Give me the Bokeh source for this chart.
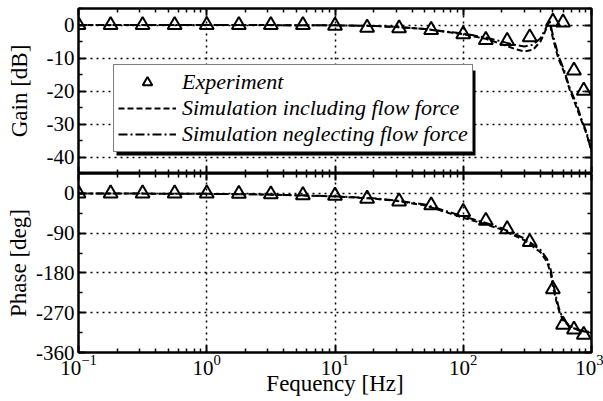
from bokeh.plotting import figure
from bokeh.models import (Range1d, FixedTicker, LogAxis, LinearAxis, Legend, LegendItem,
                          BoxAnnotation, LogTickFormatter)
from bokeh.layouts import column
from bokeh.embed import file_html
from bokeh.resources import INLINE

# ---------------- data ----------------
exp_freq = [0.1, 0.178, 0.316, 0.562, 1.0, 1.78, 3.16, 5.62, 10, 17.8, 31.6, 56.2,
            100, 150, 220, 330, 500, 600, 730, 870]
exp_gain = [0, 0, 0, 0, 0, 0, 0, 0, -0.2, -0.8, -1.0, -1.5,
            -2.8, -4.5, -4.8, -3.7, 1.0, 0.8, -13.8, -19.9]
exp_phase = [0, 0, 0, 0, 0, -1, -2, -4, -5, -12, -18, -27,
             -42, -62, -81, -110, -217, -297, -308, -320]

gain_sim_freq = [0.1, 1, 5, 10, 20, 30, 50, 100, 150, 200, 250, 300, 350, 400, 440, 470,
                 500, 550, 615, 675, 765, 835, 915, 1000]
gain_inc = [0, 0, -0.05, -0.1, -0.3, -0.6, -1.2, -2.8, -4.2, -5.8, -7.2, -8.0, -7.5, -5.0,
            -1.5, 1.2, -4.0, -10.0, -14.5, -19.5, -25.0, -29.0, -33.0, -38.0]
gain_neg = [0, 0, -0.05, -0.1, -0.3, -0.6, -1.2, -2.6, -3.8, -5.0, -6.0, -6.5, -6.0, -4.0,
            -1.0, 1.5, -3.0, -9.0, -14.0, -19.0, -24.0, -28.5, -32.5, -38.5]

phase_sim_freq = [0.1, 1, 3, 10, 20, 30, 50, 100, 150, 200, 300, 400, 450, 480, 500, 530,
                  560, 600, 650, 700, 800, 900, 1000]
phase_inc = [0, -1, -2.5, -7, -12, -17, -27, -55, -70, -82, -106, -133, -155, -180, -211,
             -242, -267, -287, -297, -303, -310, -313, -315]
phase_neg = [0, -1, -2.5, -6.5, -11, -16, -25, -52, -67, -79, -102, -128, -148, -172, -200,
             -235, -262, -284, -295, -302, -309, -312, -314]

x_major = [0.1, 1, 10, 100, 1000]
x_minor = [k * 10 ** e for e in range(-1, 3) for k in range(2, 10)]
gain_major = [0, -10, -20, -30, -40]
gain_labels = ["0", "-10", "-20", "-30", "-40"]
gain_minor = [5, -5, -15, -25, -35, -45]
phase_major = [0, -90, -180, -270, -360]
phase_labels = ["0", "-90", "-180", "-270", "-360"]
phase_minor = [45, -45, -135, -225, -315]

SERIF = "'Liberation Serif', 'Times New Roman', serif"
DASH_INC = "6 3"
DASH_NEG = "9 3 2 3"


def style_axis(ax, show_labels):
    ax.axis_line_width = 2
    ax.axis_line_color = "black"
    ax.major_tick_in = 7
    ax.major_tick_out = 0
    ax.minor_tick_in = 4
    ax.minor_tick_out = 0
    ax.major_tick_line_width = 2
    ax.minor_tick_line_width = 1.5
    ax.major_tick_line_color = "black"
    ax.minor_tick_line_color = "black"
    ax.major_label_text_font = SERIF
    ax.axis_label_text_font = SERIF
    ax.axis_label_text_font_style = "normal"
    ax.axis_label_text_font_size = "23px"
    ax.axis_label_text_color = "black"
    if show_labels:
        ax.major_label_text_font_size = "21px"
        ax.major_label_text_color = "black"
        ax.major_label_standoff = 4
    else:
        ax.major_label_text_font_size = "1px"
        ax.major_label_text_color = None
        ax.major_label_standoff = 0


def make_fig(y_lo, y_hi, y_major, y_labels, y_minor, y_label, frame_h, top_b, bottom_b,
             show_x_labels, label_standoff):
    p = figure(x_axis_type="log", x_range=Range1d(0.1, 1000), y_range=Range1d(y_lo, y_hi),
               frame_width=513, frame_height=frame_h,
               min_border_left=78, min_border_right=12, min_border_top=top_b,
               min_border_bottom=bottom_b,
               output_backend="svg", toolbar_location=None)
    p.outline_line_color = "black"
    p.outline_line_width = 2
    p.background_fill_color = "white"
    p.border_fill_color = "white"

    xt = FixedTicker(ticks=x_major, minor_ticks=x_minor)
    yt = FixedTicker(ticks=y_major, minor_ticks=y_minor)

    xa = p.xaxis[0]
    xa.ticker = xt
    xa.formatter = LogTickFormatter()
    style_axis(xa, show_x_labels)
    if show_x_labels:
        xa.axis_label = "Fequency [Hz]"
        xa.axis_label_standoff = -7
        xa.major_label_standoff = 2

    ya = p.yaxis[0]
    ya.ticker = yt
    style_axis(ya, True)
    ya.major_label_overrides = {float(v): s for v, s in zip(y_major, y_labels)}
    ya.axis_label = y_label
    ya.axis_label_standoff = label_standoff

    top_ax = LogAxis(ticker=xt)
    style_axis(top_ax, False)
    p.add_layout(top_ax, "above")
    right_ax = LinearAxis(ticker=yt)
    style_axis(right_ax, False)
    p.add_layout(right_ax, "right")

    for g in (p.xgrid[0], p.ygrid[0]):
        g.grid_line_color = "black"
        g.grid_line_dash = "2 4"
        g.grid_line_width = 1.5
    return p


# ---------------- gain panel ----------------
p1 = make_fig(-45, 5, gain_major, gain_labels, gain_minor, "Gain [dB]", 165, 8, 0, False, 12)
r_inc = p1.line(gain_sim_freq, gain_inc, line_color="black", line_width=2, line_dash=DASH_INC)
r_neg = p1.line(gain_sim_freq, gain_neg, line_color="black", line_width=2, line_dash=DASH_NEG)
r_exp = p1.scatter(exp_freq, exp_gain, marker="triangle", size=14, line_color="black",
                   line_width=2, fill_alpha=0)

shadow = BoxAnnotation(left=38, right=397, bottom=18, top=103,
                       left_units="screen", right_units="screen",
                       bottom_units="screen", top_units="screen",
                       fill_color="black", fill_alpha=1, line_color=None)
p1.add_layout(shadow)

legend = Legend(items=[
    LegendItem(label="Experiment", renderers=[r_exp]),
    LegendItem(label="Simulation including flow force", renderers=[r_inc]),
    LegendItem(label="Simulation neglecting flow force", renderers=[r_neg]),
], location=(35, 21))
legend.label_text_font = SERIF
legend.label_text_font_style = "italic"
legend.label_text_font_size = "22px"
legend.label_text_color = "black"
legend.border_line_color = "black"
legend.border_line_width = 1
legend.background_fill_color = "white"
legend.background_fill_alpha = 1
legend.glyph_width = 58
legend.glyph_height = 24
legend.label_height = 24
legend.label_standoff = 6
legend.spacing = 0
legend.padding = 4
legend.margin = 0
p1.add_layout(legend, "center")

# ---------------- phase panel ----------------
p2 = make_fig(-360, 45, phase_major, phase_labels, phase_minor, "Phase [deg]", 179, 0, 49,
              True, 2)
p2.line(phase_sim_freq, phase_inc, line_color="black", line_width=2, line_dash=DASH_INC)
p2.line(phase_sim_freq, phase_neg, line_color="black", line_width=2, line_dash=DASH_NEG)
p2.scatter(exp_freq, exp_phase, marker="triangle", size=14, line_color="black",
           line_width=2, fill_alpha=0)

layout = column(p1, p2, spacing=0)
open("out.html", "w").write(file_html(layout, INLINE))
